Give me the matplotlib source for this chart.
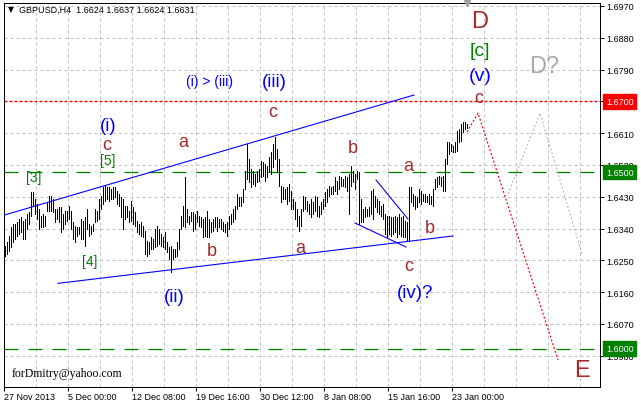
import matplotlib
matplotlib.use("Agg")
import matplotlib.pyplot as plt
import numpy as np
from matplotlib.transforms import blended_transform_factory

plt.rcParams['lines.scale_dashes'] = False
plt.rcParams['font.family'] = ['Liberation Sans', 'DejaVu Sans']

# ---------------- data ----------------
symbol = "GBPUSD,H4"
last_ohlc = [1.6624, 1.6637, 1.6624, 1.6631]

# H4 bar highs / lows, in pips above 1.6000
high_pips = [
    291, 302, 319, 345, 353, 353, 359, 367, 373, 362, 367, 381, 387, 444, 444, 424, 410, 396, 376, 381,
    376, 415, 433, 433, 424, 396, 396, 401, 401, 381, 390, 390, 404, 390, 359, 348, 345, 345,
    367, 362, 373, 396, 353, 348, 353, 396, 390, 424, 433, 458, 461, 458, 458, 452, 458, 458, 447, 438,
    430, 424, 404, 404, 390, 418, 401, 387, 362, 353, 359, 348, 334, 305, 302, 316, 311, 339, 348, 339,
    325, 316, 331, 302, 288, 291, 283, 283, 302, 339, 376, 404, 486, 396, 376, 387, 387, 381, 390, 376,
    373, 367, 373, 390, 367, 359, 367, 373, 373, 367, 367, 359, 353, 359, 376, 381, 396, 404, 438, 430,
    430, 452, 503, 580, 537, 509, 503, 495, 503, 509, 532, 529, 523, 517, 543, 557, 580, 599, 566, 537,
    461, 458, 452, 458, 466, 447, 424, 415, 396, 376, 396, 433, 430, 418, 410, 424, 415, 433, 430, 404,
    415, 424, 444, 452, 461, 458, 461, 486, 475, 489, 486, 481, 489, 486, 495, 517, 503, 495, 503, 500,
    424, 396, 401, 396, 401, 447, 452, 433, 424, 418, 404, 410, 381, 376, 376, 373, 373, 376, 373, 381,
    373, 376, 362, 359, 458, 458, 438, 433, 430, 452, 447, 438, 438, 433, 438, 433, 452, 481, 486, 489,
    486, 489, 537, 585, 585, 580, 574, 585, 616, 622, 636, 642, 642, 637,
]
low_pips = [
    263, 268, 277, 288, 302, 311, 319, 325, 331, 311, 311, 339, 353, 376, 404, 381, 367, 339, 345, 345,
    348, 390, 390, 390, 387, 359, 367, 359, 331, 339, 353, 362, 367, 339, 311, 302, 319, 325,
    311, 311, 291, 339, 319, 325, 334, 359, 362, 367, 396, 410, 418, 424, 418, 424, 424, 430, 410, 404,
    373, 339, 367, 373, 359, 362, 353, 348, 331, 325, 319, 316, 268, 263, 268, 283, 283, 288, 291, 297,
    291, 288, 283, 274, 254, 217, 254, 260, 263, 283, 339, 348, 345, 359, 353, 362, 334, 339, 359, 348,
    345, 316, 319, 316, 316, 331, 334, 345, 334, 345, 339, 334, 331, 319, 339, 353, 359, 367, 396, 404,
    404, 415, 452, 481, 472, 458, 466, 461, 472, 475, 486, 489, 475, 486, 503, 495, 515, 537, 500, 461,
    415, 424, 424, 410, 418, 396, 396, 367, 348, 334, 348, 390, 396, 390, 381, 373, 381, 390, 376, 373,
    381, 396, 404, 415, 433, 438, 438, 447, 438, 452, 461, 461, 458, 447, 381, 461, 472, 452, 481, 353,
    359, 359, 373, 376, 376, 381, 367, 401, 387, 381, 376, 367, 325, 316, 325, 319, 325, 331, 316, 325,
    319, 316, 316, 305, 305, 415, 404, 396, 401, 415, 410, 418, 415, 415, 410, 410, 404, 452, 458, 466,
    461, 447, 447, 523, 551, 560, 557, 557, 560, 585, 588, 614, 622, 624,
]

x_tick_labels = ["27 Nov 2013", "5 Dec 00:00", "12 Dec 08:00", "19 Dec 16:00",
                 "30 Dec 12:00", "8 Jan 08:00", "15 Jan 16:00", "23 Jan 00:00"]
y_ticks = [1.5980, 1.6070, 1.6160, 1.6250, 1.6340, 1.6430, 1.6520, 1.6610,
           1.6700, 1.6790, 1.6880, 1.6970]

# horizontal levels
level_red = 1.6700
levels_green = [1.6500, 1.6000]

# trend lines (bar index, price)
upper_ch_x, upper_ch_y = [-0.5, 204.5], [1.6378, 1.6718]
lower_ch_x, lower_ch_y = [26.5, 224.0], [1.6185, 1.6319]
tri_up_x, tri_up_y = [185.5, 201.5], [1.64775, 1.6367]
tri_lo_x, tri_lo_y = [175.0, 200.5], [1.63558, 1.62878]
proj_red_x, proj_red_y = [231, 236.5, 276.5], [1.66133, 1.66671, 1.59680]
proj_gray_x, proj_gray_y = [251.5, 267.5, 288.5], [1.64379, 1.66671, 1.62680]

BROWN, BLUE, GREEN, GRAY = '#a52a2a', '#0000ff', '#008000', '#aaaaaa'
# wave labels: text, bar index, baseline price, colour, size
wave_labels = [
    ("D", 237.25, 1.69106, BROWN, 17),
    ("[c]", 237.5, 1.68319, GREEN, 14),
    ("(v)", 237.75, 1.67605, BLUE, 14),
    ("c", 236.75, 1.66983, BROWN, 13),
    ("D?", 269.75, 1.67832, GRAY, 17),
    ("E", 288.25, 1.59227, BROWN, 17),
    ("(i) > (iii)", 102.5, 1.67464, BLUE, 10),
    ("(iii)", 134.75, 1.67436, BLUE, 13.5),
    ("c", 133.75, 1.66587, BROWN, 13),
    ("(i)", 51.5, 1.66190, BLUE, 13.5),
    ("c", 51.0, 1.65652, BROWN, 13),
    ("[5]", 51.25, 1.65228, GREEN, 10),
    ("[3]", 14.25, 1.64747, GREEN, 10),
    ("a", 89.0, 1.65737, BROWN, 13),
    ("[4]", 42.25, 1.62367, GREEN, 10),
    ("(ii)", 84.5, 1.61350, BLUE, 13.5),
    ("b", 103.25, 1.62652, BROWN, 13),
    ("a", 147.75, 1.62737, BROWN, 13),
    ("b", 174.0, 1.65567, BROWN, 13),
    ("a", 201.75, 1.65045, BROWN, 13),
    ("b", 212.5, 1.63303, BROWN, 13),
    ("c", 201.75, 1.62228, BROWN, 13),
    ("(iv)?", 205.25, 1.61464, BLUE, 13.5),
]

# ---------------- figure ----------------
W, H = 641, 406
PX = 72.0 / 100.0  # points per pixel
fig = plt.figure(figsize=(W / 100, H / 100), dpi=100)
fig.patch.set_facecolor('white')
L, R, T, B = 4, 600, 3.5, 388
ax = fig.add_axes([L / W, 1 - B / H, (R - L) / W, (B - T) / H])
ax.set_facecolor('white')
ax.set_xlim(-0.5, 297.5)
ax.set_ylim(1.58916, 1.69799)

# grid
grid_kw = dict(color='#c0c0c0', linewidth=1 * PX, linestyle=(0, (3 * PX, 3 * PX)), zorder=0.5)
for k in range(1, 19):
    ax.axvline(-0.5 + 16 * k, **grid_kw)
for yv in y_ticks:
    if abs(yv - level_red) > 1e-9:
        ax.axhline(yv, **grid_kw)

# levels
ax.axhline(level_red, color='#ff0000', linewidth=1.4 * PX,
           linestyle=(0, (3 * PX, 2 * PX)), zorder=1)
for lv in levels_green:
    ax.axhline(lv, color=GREEN, linewidth=1.3 * PX,
               linestyle=(0, (14 * PX, 10 * PX)), zorder=1)

# bars
highs = 1.6 + np.array(high_pips) / 10000.0
lows = 1.6 + np.array(low_pips) / 10000.0
xs = np.arange(len(highs))
ax.vlines(xs, lows, highs, colors='black', linewidth=1 * PX, antialiased=False, zorder=2)

# trend lines
for lx, ly in [(upper_ch_x, upper_ch_y), (lower_ch_x, lower_ch_y),
               (tri_up_x, tri_up_y), (tri_lo_x, tri_lo_y)]:
    ax.plot(lx, ly, color=BLUE, linewidth=1.1 * PX, zorder=3)
ax.plot(proj_red_x, proj_red_y, color='#ff0000', linewidth=1.2 * PX,
        linestyle=(0, (2 * PX, 2 * PX)), zorder=3)
ax.plot(proj_gray_x, proj_gray_y, color='#b0b0b0', linewidth=1 * PX,
        linestyle=(0, (2 * PX, 2 * PX)), zorder=3)

# wave labels
for txt, bx, by, col, sz in wave_labels:
    ax.text(bx, by, txt, color=col, fontsize=sz, ha='center', va='baseline',
            family='Liberation Sans', zorder=4)

# axes styling
for sp in ax.spines.values():
    sp.set_color('black')
    sp.set_linewidth(1 * PX)
ax.yaxis.tick_right()
ax.set_yticks(y_ticks)
ax.set_yticklabels([f"{v:.4f}" for v in y_ticks])
ax.tick_params(axis='y', direction='out', length=4 * PX, width=1 * PX, pad=2,
               labelsize=6.5, colors='black')
x_ticks = [-0.5 + 32 * k for k in range(len(x_tick_labels))]
ax.set_xticks(x_ticks)
ax.set_xticklabels(x_tick_labels)
ax.tick_params(axis='x', direction='out', length=4 * PX, width=1 * PX, pad=1,
               labelsize=6.5, colors='black')
for lbl in ax.get_xticklabels():
    lbl.set_ha('left')

# price boxes on the right scale
btrans = blended_transform_factory(ax.transAxes, ax.transData)
for val, col in [(level_red, '#ff0000')] + [(v, GREEN) for v in levels_green]:
    ax.text(1.0101, val, f"{val:.4f}", transform=btrans, color='white', fontsize=6.5,
            ha='left', va='center', clip_on=False, zorder=6,
            bbox=dict(boxstyle='square,pad=0.3', facecolor=col, edgecolor=col))

# chart-shift marker
ax.plot([231], [ax.get_ylim()[1]], marker='v', color='#a0a0a0', markersize=5,
        clip_on=False, zorder=6)

# header and watermark
fig.text(8 / W, 1 - 10 / H, "\u25bc", fontsize=5.5, family='DejaVu Sans',
         va='center', ha='left', color='black')
fig.text(19 / W, 1 - 10.5 / H,
         f"{symbol}  " + " ".join(f"{v:.4f}" for v in last_ohlc),
         fontsize=6.5, va='center', ha='left', color='black')
fig.text(12 / W, 1 - 377 / H, "forDmitry@yahoo.com", fontsize=8.5,
         family='Liberation Serif', va='baseline', ha='left', color='black')

fig.savefig("out.png", dpi=100, facecolor='white')
